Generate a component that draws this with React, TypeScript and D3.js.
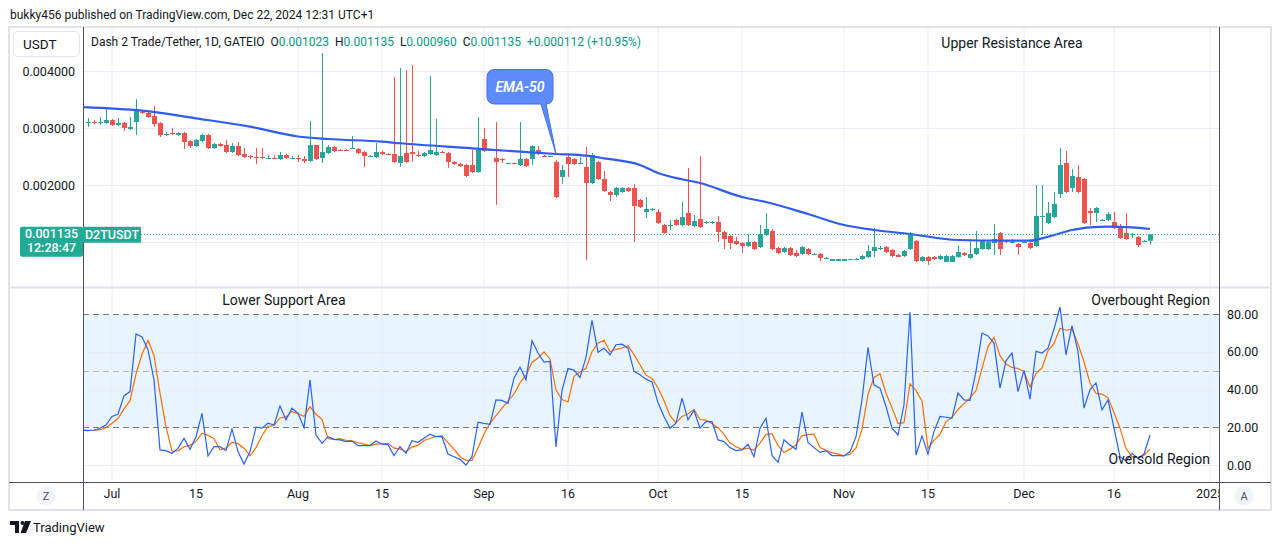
import React from 'react';
import * as d3 from 'd3';

// ---------- DATA ----------
// Daily candles, D2T/USDT, bar 0 = Jun 27 2024 ... bar 177 = Dec 22 2024
const opens = [
  0.003088, 0.003105, 0.003088, 0.003088, 0.003140, 0.003053, 0.003088, 0.002982, 0.003105, 0.003281,
  0.003263, 0.003211, 0.003088, 0.002877, 0.002912, 0.002877, 0.002912, 0.002772, 0.002684, 0.002772,
  0.002877, 0.002649, 0.002719, 0.002702, 0.002579, 0.002684, 0.002544, 0.002509, 0.002491, 0.002491,
  0.002456, 0.002474, 0.002456, 0.002526, 0.002456, 0.002474, 0.002456, 0.002421, 0.002702, 0.002474,
  0.002561, 0.002667, 0.002614, 0.002614, 0.002632, 0.002632, 0.002579, 0.002491, 0.002491, 0.002579,
  0.002544, 0.002544, 0.002386, 0.002561, 0.002579, 0.002526, 0.002509, 0.002544, 0.002526, 0.002579,
  0.002561, 0.002404, 0.002368, 0.002351, 0.002351, 0.002228, 0.002807, 0.002614, 0.002474, 0.002456,
  0.002368, 0.002386, 0.002351, 0.002456, 0.002456, 0.002614, 0.002509, 0.002491, 0.002404, 0.002140,
  0.002491, 0.002456, 0.002368, 0.002316, 0.002035, 0.002404, 0.002105, 0.001877, 0.001825, 0.001877,
  0.001947, 0.001947, 0.001737, 0.001526, 0.001561, 0.001526, 0.001298, 0.001281, 0.001386, 0.001298,
  0.001509, 0.001281, 0.001404, 0.001333, 0.001333, 0.001351, 0.001175, 0.001105, 0.001018, 0.000982,
  0.000930, 0.001000, 0.000912, 0.001123, 0.001193, 0.000895, 0.000825, 0.000895, 0.000807, 0.000789,
  0.000877, 0.000772, 0.000789, 0.000702, 0.000667, 0.000667, 0.000667, 0.000684, 0.000684, 0.000702,
  0.000737, 0.000842, 0.000877, 0.000912, 0.000860, 0.000772, 0.000754, 0.000877, 0.001018, 0.000667,
  0.000737, 0.000737, 0.000702, 0.000649, 0.000649, 0.000737, 0.000807, 0.000719, 0.000789, 0.000877,
  0.000877, 0.000982, 0.001158, 0.001018, 0.000982, 0.000965, 0.000982, 0.000982, 0.000930, 0.001439,
  0.001333, 0.001439, 0.001842, 0.002386, 0.001947, 0.002140, 0.002105, 0.001544, 0.001509, 0.001368,
  0.001386, 0.001351, 0.001263, 0.001158, 0.001123, 0.001088, 0.001000, 0.001023,
];
const highs = [
  0.003175, 0.003140, 0.003193, 0.003333, 0.003158, 0.003175, 0.003105, 0.003193, 0.003509, 0.003298,
  0.003281, 0.003386, 0.003105, 0.002930, 0.003000, 0.002930, 0.002930, 0.002789, 0.002807, 0.002895,
  0.002895, 0.002737, 0.002737, 0.002789, 0.002737, 0.002754, 0.002649, 0.002526, 0.002649, 0.002649,
  0.002526, 0.002526, 0.002579, 0.002544, 0.002509, 0.002526, 0.002509, 0.003123, 0.002702, 0.004316,
  0.002702, 0.002684, 0.002632, 0.002632, 0.002860, 0.002649, 0.002596, 0.002526, 0.002737, 0.002596,
  0.002561, 0.003895, 0.004053, 0.004018, 0.004105, 0.002596, 0.002579, 0.003912, 0.003158, 0.002596,
  0.002579, 0.002421, 0.002386, 0.002368, 0.002614, 0.003193, 0.003000, 0.002632, 0.003105, 0.002474,
  0.002386, 0.002386, 0.003105, 0.002474, 0.002702, 0.002684, 0.002526, 0.002509, 0.002439, 0.002351,
  0.002544, 0.002474, 0.002491, 0.002667, 0.002561, 0.002421, 0.002246, 0.001895, 0.001965, 0.001965,
  0.001965, 0.002018, 0.001754, 0.001789, 0.001596, 0.001579, 0.001316, 0.001386, 0.001404, 0.001702,
  0.002298, 0.001474, 0.002509, 0.001368, 0.001368, 0.001456, 0.001193, 0.001123, 0.001088, 0.001000,
  0.001140, 0.001018, 0.001298, 0.001509, 0.001228, 0.000912, 0.000912, 0.000912, 0.000860, 0.000930,
  0.000895, 0.000807, 0.000807, 0.000737, 0.000702, 0.000702, 0.000702, 0.000702, 0.000719, 0.000772,
  0.000947, 0.001246, 0.000930, 0.000930, 0.000877, 0.000789, 0.000860, 0.001175, 0.001035, 0.000754,
  0.000754, 0.000754, 0.000772, 0.000772, 0.000772, 0.000947, 0.000825, 0.001053, 0.001193, 0.001035,
  0.001018, 0.001316, 0.001175, 0.001035, 0.001053, 0.000982, 0.001018, 0.001053, 0.002000, 0.002000,
  0.001702, 0.001877, 0.002649, 0.002596, 0.002281, 0.002351, 0.002123, 0.001596, 0.001614, 0.001404,
  0.001526, 0.001526, 0.001316, 0.001509, 0.001158, 0.001105, 0.001035, 0.001135,
];
const lows = [
  0.003018, 0.003070, 0.003053, 0.003070, 0.003035, 0.003035, 0.002947, 0.002965, 0.002877, 0.003246,
  0.003175, 0.003018, 0.002842, 0.002860, 0.002877, 0.002860, 0.002632, 0.002649, 0.002667, 0.002754,
  0.002632, 0.002632, 0.002667, 0.002561, 0.002561, 0.002509, 0.002474, 0.002456, 0.002368, 0.002456,
  0.002456, 0.002456, 0.002439, 0.002456, 0.002456, 0.002404, 0.002386, 0.002404, 0.002439, 0.002386,
  0.002544, 0.002579, 0.002596, 0.002596, 0.002632, 0.002544, 0.002316, 0.002491, 0.002474, 0.002526,
  0.002526, 0.002386, 0.002316, 0.002386, 0.002404, 0.002491, 0.002491, 0.002526, 0.002509, 0.002561,
  0.002298, 0.002351, 0.002316, 0.002140, 0.002211, 0.002211, 0.002579, 0.002596, 0.001649, 0.002386,
  0.002368, 0.002368, 0.002333, 0.002316, 0.002351, 0.002526, 0.002491, 0.002491, 0.001772, 0.002018,
  0.002140, 0.002351, 0.002368, 0.000684, 0.002018, 0.002088, 0.001877, 0.001719, 0.001789, 0.001860,
  0.001877, 0.001000, 0.001596, 0.001421, 0.001544, 0.001316, 0.001140, 0.001211, 0.001281, 0.001281,
  0.001281, 0.001263, 0.001246, 0.001316, 0.001316, 0.001000, 0.000877, 0.000877, 0.000947, 0.000807,
  0.000912, 0.000860, 0.000895, 0.001105, 0.000860, 0.000789, 0.000807, 0.000754, 0.000737, 0.000772,
  0.000772, 0.000772, 0.000667, 0.000702, 0.000667, 0.000667, 0.000667, 0.000684, 0.000684, 0.000684,
  0.000719, 0.000737, 0.000860, 0.000807, 0.000737, 0.000737, 0.000737, 0.000860, 0.000649, 0.000649,
  0.000596, 0.000684, 0.000684, 0.000649, 0.000649, 0.000719, 0.000754, 0.000702, 0.000772, 0.000860,
  0.000860, 0.000772, 0.000772, 0.000982, 0.000982, 0.000772, 0.000982, 0.000877, 0.000912, 0.001123,
  0.001316, 0.001421, 0.001772, 0.001860, 0.001877, 0.001860, 0.001316, 0.001298, 0.001351, 0.001368,
  0.001368, 0.001228, 0.001053, 0.001035, 0.001070, 0.000912, 0.001000, 0.000960,
];
const closes = [
  0.003105, 0.003088, 0.003105, 0.003140, 0.003053, 0.003088, 0.003000, 0.003018, 0.003298, 0.003263,
  0.003193, 0.003070, 0.002877, 0.002895, 0.002895, 0.002912, 0.002754, 0.002684, 0.002789, 0.002877,
  0.002649, 0.002719, 0.002684, 0.002579, 0.002684, 0.002526, 0.002491, 0.002491, 0.002474, 0.002474,
  0.002474, 0.002456, 0.002526, 0.002474, 0.002474, 0.002456, 0.002421, 0.002702, 0.002456, 0.002579,
  0.002667, 0.002596, 0.002596, 0.002596, 0.002649, 0.002561, 0.002509, 0.002509, 0.002579, 0.002544,
  0.002526, 0.002404, 0.002509, 0.002404, 0.002544, 0.002509, 0.002561, 0.002614, 0.002579, 0.002561,
  0.002404, 0.002368, 0.002333, 0.002158, 0.002228, 0.002614, 0.002596, 0.002596, 0.002404, 0.002439,
  0.002386, 0.002368, 0.002456, 0.002333, 0.002684, 0.002544, 0.002491, 0.002509, 0.001789, 0.002263,
  0.002368, 0.002368, 0.002386, 0.002035, 0.002526, 0.002105, 0.001895, 0.001825, 0.001947, 0.001947,
  0.001895, 0.001632, 0.001614, 0.001579, 0.001579, 0.001333, 0.001158, 0.001298, 0.001298, 0.001439,
  0.001298, 0.001368, 0.001263, 0.001351, 0.001351, 0.001175, 0.001053, 0.000982, 0.000965, 0.000930,
  0.001000, 0.000877, 0.001140, 0.001228, 0.000877, 0.000807, 0.000895, 0.000772, 0.000754, 0.000912,
  0.000789, 0.000789, 0.000719, 0.000719, 0.000702, 0.000702, 0.000702, 0.000702, 0.000702, 0.000754,
  0.000842, 0.000912, 0.000895, 0.000825, 0.000754, 0.000737, 0.000842, 0.001158, 0.000667, 0.000737,
  0.000667, 0.000702, 0.000754, 0.000754, 0.000754, 0.000825, 0.000772, 0.000789, 0.000895, 0.001018,
  0.001000, 0.001053, 0.000877, 0.001000, 0.001000, 0.000912, 0.001000, 0.000895, 0.001456, 0.001456,
  0.001509, 0.001667, 0.002351, 0.001877, 0.002158, 0.001877, 0.001333, 0.001509, 0.001596, 0.001386,
  0.001491, 0.001246, 0.001070, 0.001053, 0.001140, 0.000947, 0.001018, 0.001135,
];

// EMA-50 read at sample bars
const emaBars = [-1, 9, 18, 27, 35, 40, 49, 52, 64, 72, 78, 83, 86, 92, 95, 99, 102, 109, 113, 120, 126, 131, 137, 145, 152, 157, 160, 164, 167, 170, 174, 177];
const emaValues = [
  0.003368, 0.003304, 0.003170, 0.003023, 0.002851, 0.002807, 0.002760, 0.002732, 0.002644, 0.002584,
  0.002544, 0.002514, 0.002468, 0.002351, 0.002211, 0.002100, 0.002035, 0.001789, 0.001702, 0.001491,
  0.001298, 0.001211, 0.001140, 0.001035, 0.001023, 0.001023, 0.001093, 0.001211, 0.001258, 0.001268,
  0.001258, 0.001228,
];

// Stochastic, first value at bar -1
const stochStartBar = -1;
const stochK = [
  18.4, 18.2, 18.4, 19.5, 21.2, 25.7, 26.9, 36.6, 38.9, 69.4, 67.8, 61.1, 45.1, 8.0, 7.6, 6.2, 8.8, 14.2, 8.3, 15.0,
  27.4, 4.8, 9.7, 9.7, 7.6, 19.1, 7.1, 0.5, 7.1, 20.0, 19.5, 22.1, 21.2, 31.3, 23.9, 30.1, 27.4, 19.8, 45.1, 15.9,
  11.5, 15.0, 13.6, 13.3, 12.4, 12.7, 10.3, 10.3, 10.3, 12.7, 11.0, 10.8, 5.0, 9.7, 6.2, 12.9, 12.0, 14.2, 16.3, 15.0,
  15.0, 5.8, 4.4, 3.0, 0.0, 4.4, 22.7, 22.1, 21.6, 34.5, 34.2, 32.7, 46.0, 51.9, 45.1, 65.8, 59.3, 54.5, 54.9, 9.6,
  39.6, 51.1, 50.3, 46.4, 57.0, 76.6, 59.8, 61.9, 58.4, 63.7, 64.0, 61.9, 49.6, 47.8, 45.5, 44.0, 33.0, 25.7, 19.5, 22.1,
  35.4, 23.9, 28.9, 19.5, 23.0, 23.0, 13.3, 12.4, 9.2, 7.6, 8.0, 11.0, 4.4, 19.5, 24.8, 5.1, 1.4, 13.3, 10.6, 8.3,
  28.0, 12.0, 9.2, 6.7, 7.6, 5.0, 5.0, 4.8, 7.1, 15.0, 34.5, 62.3, 42.3, 40.7, 31.0, 19.5, 15.9, 31.9, 81.1, 5.3,
  15.4, 5.8, 17.7, 25.7, 25.3, 24.8, 38.1, 34.5, 34.2, 49.6, 69.9, 68.4, 64.6, 40.7, 55.2, 59.3, 38.9, 50.1, 34.9, 60.2,
  59.3, 61.9, 72.0, 83.7, 58.4, 73.8, 60.2, 30.1, 40.0, 43.5, 29.2, 34.5, 19.5, 4.4, 2.3, 6.2, 3.5, 5.8, 15.9,
];
const stochD = [
  18.6, 18.4, 18.3, 18.7, 19.7, 22.1, 24.6, 29.7, 34.1, 48.3, 58.7, 66.1, 58.0, 38.1, 20.2, 7.3, 7.5, 9.7, 10.4, 12.5,
  16.9, 15.7, 14.0, 8.1, 9.0, 12.1, 11.3, 8.9, 4.9, 9.2, 15.5, 20.5, 20.9, 24.9, 25.5, 28.4, 27.1, 25.8, 30.8, 26.9,
  24.2, 14.1, 13.4, 14.0, 13.1, 12.8, 11.8, 11.1, 10.3, 11.1, 11.3, 11.5, 8.9, 8.5, 7.0, 9.6, 10.4, 13.0, 14.2, 15.2,
  15.4, 11.9, 8.4, 4.4, 2.5, 2.5, 9.0, 16.4, 22.1, 26.1, 30.1, 33.8, 37.6, 43.5, 47.7, 54.3, 56.7, 59.9, 56.2, 39.7,
  34.7, 33.4, 47.0, 49.3, 51.2, 60.0, 64.5, 66.1, 60.0, 61.3, 62.0, 63.2, 58.5, 53.1, 47.6, 45.8, 40.8, 34.2, 26.1, 22.4,
  25.7, 27.1, 29.4, 24.1, 23.8, 21.8, 19.8, 16.2, 11.6, 9.7, 8.3, 8.9, 7.8, 11.6, 16.2, 16.5, 10.4, 6.6, 8.4, 10.7,
  15.6, 16.1, 16.4, 9.3, 7.8, 6.4, 5.9, 4.9, 5.6, 9.0, 18.9, 37.3, 46.4, 48.4, 38.0, 30.4, 22.1, 22.4, 43.0, 39.4,
  33.9, 8.8, 13.0, 16.4, 22.9, 25.3, 29.4, 32.5, 35.6, 39.4, 51.2, 62.6, 67.6, 57.9, 53.5, 51.7, 51.1, 49.4, 41.3, 48.4,
  51.5, 60.5, 64.4, 72.5, 71.4, 72.0, 64.1, 54.7, 43.4, 37.9, 37.6, 35.7, 27.7, 19.5, 8.7, 4.3, 4.0, 5.2, 8.4,
];

const timeTickLabels = ['Jul', '15', 'Aug', '15', 'Sep', '16', 'Oct', '15', 'Nov', '15', 'Dec', '16', '2025'];
const timeTickBars = [4, 18, 35, 49, 66, 80, 95, 109, 126, 140, 156, 171, 187];
const priceTicks = [0.001, 0.002, 0.003, 0.004];
const priceTickLabels = ['0.001000', '0.002000', '0.003000', '0.004000'];
const stochGridValues = [0, 40, 60];
const stochTickValues = [80, 60, 40, 20, 0];
const lastPrice = 0.001135;

// ---------- COMPONENT ----------
const FONT = "Roboto, 'Noto Sans', 'Liberation Sans', sans-serif";
const UP = '#26a69a';
const DOWN = '#ef5350';
const TEAL = '#089981';
const TXT = '#131722';
const GRID = '#e9eef6';
const AXIS = '#50535e';

export default function App() {
  const L = 83;
  const R = 1219;
  const frameL = 9;
  const frameR = 1271;
  const top = 27;
  const sep = 287;
  const axisY = 482;
  const bottom = 510;

  const x = d3.scaleLinear().domain([0, 187]).range([88, 1210]);
  const yP = d3.scaleLinear().domain([0.001, 0.004]).range([242, 71]);
  const yS = d3.scaleLinear().domain([0, 80]).range([465, 314]);

  const emaPath = d3
    .line<number>()
    .x((_, k) => x(emaBars[k]))
    .y((v) => yP(v))
    .curve(d3.curveMonotoneX)(emaValues) || '';

  const stochLine = d3
    .line<number>()
    .x((_, k) => x(stochStartBar + k))
    .y((v) => yS(v));
  const kPath = stochLine(stochK) || '';
  const dPath = stochLine(stochD) || '';

  const lastY = yP(lastPrice);

  return (
    <svg
      width={1281}
      height={545}
      style={{ position: 'absolute', left: 0, top: 0, display: 'block', background: '#fff' }}
      fontFamily={FONT}
    >
      <defs>
        <clipPath id="pricePane">
          <rect x={L} y={top} width={R - L} height={sep - top} />
        </clipPath>
        <clipPath id="stochPane">
          <rect x={L} y={sep} width={R - L} height={axisY - sep} />
        </clipPath>
        <clipPath id="timeAxis">
          <rect x={L} y={axisY} width={R - L} height={bottom - axisY} />
        </clipPath>
      </defs>

      <rect x={0} y={0} width={1281} height={545} fill="#fff" />

      {/* header */}
      <text x={10} y={19} fontSize={12} fill={TXT}>
        bukky456 published on TradingView.com, Dec 22, 2024 12:31 UTC+1
      </text>

      {/* stochastic band */}
      <rect x={L} y={yS(80)} width={R - L} height={yS(20) - yS(80)} fill="rgba(33,150,243,0.1)" />

      {/* vertical grid */}
      {timeTickBars.map((b, k) => (
        <g key={'vg' + k}>
          {x(b) < R && (
            <>
              <line x1={x(b)} x2={x(b)} y1={top} y2={sep} stroke={GRID} strokeWidth={1} />
              <line x1={x(b)} x2={x(b)} y1={sep} y2={axisY} stroke={GRID} strokeWidth={1} />
            </>
          )}
        </g>
      ))}

      {/* horizontal price grid */}
      {priceTicks.map((p, k) => (
        <line key={'hg' + k} x1={L} x2={R} y1={Math.round(yP(p)) + 0.5} y2={Math.round(yP(p)) + 0.5} stroke={GRID} />
      ))}
      {/* stoch grid */}
      {stochGridValues.map((v, k) => (
        <line key={'sg' + k} x1={L} x2={R} y1={Math.round(yS(v)) + 0.5} y2={Math.round(yS(v)) + 0.5} stroke={GRID} />
      ))}
      {/* stoch level lines */}
      {[80, 20].map((v) => (
        <line key={'lv' + v} x1={L} x2={R} y1={Math.round(yS(v)) + 0.5} y2={Math.round(yS(v)) + 0.5} stroke="#787b86" strokeDasharray="6 4" />
      ))}
      <line x1={L} x2={R} y1={Math.round(yS(50)) + 0.5} y2={Math.round(yS(50)) + 0.5} stroke="#b2b5be" strokeDasharray="6 4" />

      {/* candles */}
      <g clipPath="url(#pricePane)">
        {opens.map((o, i) => {
          const c = closes[i];
          const cx = Math.round(x(i));
          const col = c >= o ? UP : DOWN;
          const y1 = yP(Math.max(o, c));
          const y2 = yP(Math.min(o, c));
          const h = Math.max(1, y2 - y1);
          return (
            <g key={'c' + i}>
              <line x1={cx + 0.5} x2={cx + 0.5} y1={yP(highs[i])} y2={yP(lows[i])} stroke={col} strokeWidth={1} />
              <rect x={cx - 2} y={y1} width={5} height={h} fill={col} />
            </g>
          );
        })}
        <path d={emaPath} fill="none" stroke="#2f5bf2" strokeWidth={2.2} />
      </g>

      {/* current price dotted line */}
      <line x1={141} x2={R} y1={Math.round(lastY) + 0.5} y2={Math.round(lastY) + 0.5} stroke="#22ab94" strokeDasharray="1 2" />

      {/* stochastic lines */}
      <g clipPath="url(#stochPane)">
        <path d={dPath} fill="none" stroke="#ff6d00" strokeWidth={1.2} />
        <path d={kPath} fill="none" stroke="#2962ff" strokeWidth={1.2} />
      </g>

      {/* frame & separators */}
      <rect x={frameL} y={top} width={frameR - frameL} height={bottom - top} fill="none" stroke="#e0e3eb" strokeWidth={2} />
      <line x1={frameL} x2={frameR} y1={sep + 0.5} y2={sep + 0.5} stroke="#e0e3eb" strokeWidth={2} />
      <line x1={frameL} x2={frameR} y1={axisY + 0.5} y2={axisY + 0.5} stroke={AXIS} strokeWidth={1} />
      <line x1={L + 0.5} x2={L + 0.5} y1={top} y2={bottom} stroke={AXIS} strokeWidth={1} />
      <line x1={R + 0.5} x2={R + 0.5} y1={top} y2={bottom} stroke={AXIS} strokeWidth={1} />

      {/* price axis labels (left) */}
      {priceTicks.map((p, k) =>
        p > 0.0015 ? (
          <text key={'pl' + k} x={75} y={yP(p) + 4.5} fontSize={12.5} fill={TXT} textAnchor="end">
            {priceTickLabels[k]}
          </text>
        ) : null
      )}

      {/* current price label */}
      <rect x={20} y={lastY - 7.5} width={63} height={30} rx={2} fill="#22ab94" />
      <text x={51.5} y={lastY + 4} fontSize={12.5} fill="#fff" textAnchor="middle" fontWeight={500}>
        0.001135
      </text>
      <text x={51.5} y={lastY + 18} fontSize={12.5} fill="#fff" textAnchor="middle" fontWeight={500}>
        12:28:47
      </text>
      <rect x={83} y={lastY - 7.5} width={58} height={16} rx={1} fill="#22ab94" />
      <text x={112} y={lastY + 4.5} fontSize={12.5} fill="#fff" textAnchor="middle" fontWeight={500}>
        D2TUSDT
      </text>

      {/* stoch axis labels (right) */}
      {stochTickValues.map((v) => (
        <text key={'sl' + v} x={1227} y={yS(v) + 4.5} fontSize={12.5} fill={TXT}>
          {v.toFixed(2)}
        </text>
      ))}

      {/* time axis labels */}
      <g clipPath="url(#timeAxis)">
        {timeTickBars.map((b, k) => (
          <text key={'tl' + k} x={x(b)} y={498} fontSize={12.5} fill={TXT} textAnchor="middle">
            {timeTickLabels[k]}
          </text>
        ))}
      </g>

      {/* Z / A buttons */}
      <circle cx={46} cy={496} r={9.5} fill="#f0f3fa" />
      <text x={46} y={500} fontSize={11} fill="#50535e" textAnchor="middle">Z</text>
      <circle cx={1244} cy={496} r={9.5} fill="#f0f3fa" />
      <text x={1244} y={500} fontSize={11} fill="#50535e" textAnchor="middle">A</text>

      {/* USDT button */}
      <rect x={13.5} y={31.5} width={66} height={25} rx={4} fill="#fff" stroke="#e0e3eb" />
      <text x={23} y={49} fontSize={13.5} fill={TXT}>USDT</text>

      {/* legend */}
      <text x={91} y={46} fontSize={12} fill={TXT} xmlSpace="preserve">
        <tspan>Dash 2 Trade/Tether, 1D, GATEIO  O</tspan>
        <tspan fill={TEAL}>0.001023</tspan>
        <tspan>  H</tspan>
        <tspan fill={TEAL}>0.001135</tspan>
        <tspan>  L</tspan>
        <tspan fill={TEAL}>0.000960</tspan>
        <tspan>  C</tspan>
        <tspan fill={TEAL}>0.001135  +0.000112 (+10.95%)</tspan>
      </text>

      {/* annotations */}
      <text x={1012} y={48} fontSize={14} fill={TXT} textAnchor="middle">Upper Resistance Area</text>
      <text x={284} y={305} fontSize={14} fill={TXT} textAnchor="middle">Lower Support Area</text>
      <text x={1210} y={305} fontSize={14} fill={TXT} textAnchor="end">Overbought Region</text>
      <text x={1210} y={464} fontSize={14} fill={TXT} textAnchor="end">Oversold Region</text>

      {/* EMA-50 callout */}
      <path
        d="M495,69.5 H545 Q553,69.5 553,77.5 V96 Q553,104 546,104 L556,154 L541,104 H495 Q487,104 487,96 V77.5 Q487,69.5 495,69.5 Z"
        fill="#5e8bfa"
        stroke="#3f6ef0"
        strokeWidth={1}
      />
      <text x={520} y={92} fontSize={14} fill="#fff" fontStyle="italic" fontWeight={600} textAnchor="middle">
        EMA-50
      </text>

      {/* TradingView logo */}
      <g fill={TXT}>
        <path d="M10,521 H19 V533 H15 V525 H10 Z" />
        <circle cx={22.5} cy={523} r={2} />
        <path d="M25,521 H31 L26,533 H20.5 Z" />
      </g>
      <text x={33} y={532} fontSize={13} fill={TXT}>TradingView</text>
    </svg>
  );
}
